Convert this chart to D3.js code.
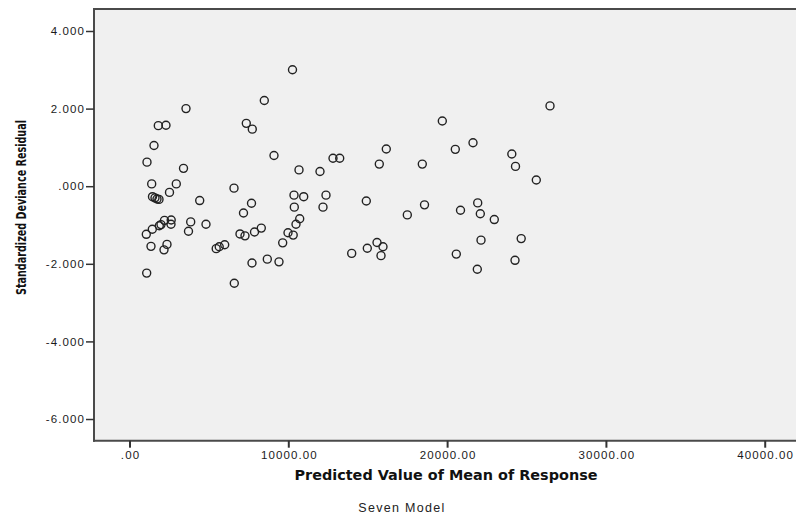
<!DOCTYPE html>
<html>
<head>
<meta charset="utf-8">
<script src="https://cdn.jsdelivr.net/npm/d3@7/dist/d3.min.js"></script>
<style>
  html, body { margin: 0; padding: 0; background: #ffffff; }
  svg { display: block; }
</style>
</head>
<body>
<svg id="chart" width="796" height="520"></svg>
<script>
// ---- Data ----
const predicted = [10264, 8489, 3558, 1814, 2298, 7355, 7733, 1543, 1102, 9099,
  3401, 12815, 13237, 10674, 11996, 1398, 2947, 2519, 1448, 1606,
  1732, 1858, 4421, 6581, 7683, 7179, 10359, 10970, 10378, 12374,
  12185, 2204, 2626, 2613, 1877, 1984, 1436, 1058, 3854, 3715,
  4817, 1354, 2361, 2173, 5460, 5649, 5995, 6958, 7273, 7872,
  8300, 9981, 10309, 9647, 10485, 10718, 7714, 8678, 9414, 1083,
  6599, 16171, 15730, 18438, 19698, 20516, 21631, 24074, 24307, 25617,
  26480, 14912, 17494, 18577, 13992, 14975, 15586, 15963, 15838, 20579,
  20844, 21927, 22091, 22972, 22135, 21902, 24666, 24276];
const residual = [3.00, 2.21, 2.00, 1.56, 1.57, 1.62, 1.47, 1.05, 0.62, 0.79,
  0.46, 0.72, 0.72, 0.42, 0.38, 0.06, 0.06, -0.16, -0.27, -0.30,
  -0.33, -0.34, -0.37, -0.05, -0.44, -0.69, -0.23, -0.27, -0.54, -0.23,
  -0.54, -0.88, -0.87, -0.98, -1.02, -0.99, -1.11, -1.24, -0.92, -1.16,
  -0.98, -1.55, -1.50, -1.64, -1.61, -1.56, -1.51, -1.23, -1.28, -1.18,
  -1.08, -1.20, -1.26, -1.46, -0.98, -0.84, -1.98, -1.88, -1.95, -2.24,
  -2.50, 0.96, 0.57, 0.57, 1.68, 0.95, 1.12, 0.83, 0.51, 0.16,
  2.07, -0.38, -0.74, -0.48, -1.73, -1.60, -1.45, -1.56, -1.79, -1.75,
  -0.62, -0.43, -0.71, -0.86, -1.39, -2.14, -1.35, -1.91];

const xTickValues = [0, 10000, 20000, 30000, 40000];
const xTickLabels = [".00", "10000.00", "20000.00", "30000.00", "40000.00"];
const yTickValues = [-6, -4, -2, 0, 2, 4];
const yTickLabels = ["-6.000", "-4.000", "-2.000", ".000", "2.000", "4.000"];

const xTitle = "Predicted Value of Mean of Response";
const yTitle = "Standardized Deviance Residual";
const caption = "Seven Model";

// ---- Layout ----
const plotLeft = 94, plotRight = 796, plotTop = 9, plotBottom = 440.7;
const xDomain = [-2235, 41970];
const yDomain = [-6.559, 4.567];

const svg = d3.select("#chart");
const x = d3.scaleLinear().domain(xDomain).range([plotLeft, plotRight]);
const y = d3.scaleLinear().domain(yDomain).range([plotBottom, plotTop]);

// plot background
svg.append("rect")
  .attr("x", plotLeft).attr("y", plotTop)
  .attr("width", plotRight - plotLeft + 10).attr("height", plotBottom - plotTop)
  .attr("fill", "#f0f0f0");

// top border
svg.append("line")
  .attr("x1", plotLeft).attr("x2", plotRight + 10)
  .attr("y1", plotTop).attr("y2", plotTop)
  .attr("stroke", "#4a4a4a").attr("stroke-width", 2);

const tickFont = "'Liberation Sans', Arial, sans-serif";

// x axis
const xAxis = d3.axisBottom(x)
  .tickValues(xTickValues)
  .tickFormat((d, i) => xTickLabels[i])
  .tickSize(7).tickSizeOuter(0).tickPadding(3);
const gx = svg.append("g").attr("transform", `translate(0,${plotBottom})`).call(xAxis);
gx.select(".domain").attr("stroke", "#4a4a4a").attr("stroke-width", 2)
  .attr("d", `M${plotLeft - 1},0H${plotRight + 10}`);
gx.selectAll(".tick line").attr("stroke", "#333").attr("stroke-width", 2);
gx.selectAll(".tick text")
  .attr("fill", "#1a1a1a").style("font-family", tickFont).style("font-size", "11.5px")
  .style("letter-spacing", "1.1px").attr("dx", "0.5px");

// y axis
const yAxis = d3.axisLeft(y)
  .tickValues(yTickValues)
  .tickFormat((d, i) => yTickLabels[i])
  .tickSize(8).tickSizeOuter(0).tickPadding(1);
const gy = svg.append("g").attr("transform", `translate(${plotLeft},0)`).call(yAxis);
gy.select(".domain").attr("stroke", "#4a4a4a").attr("stroke-width", 2)
  .attr("d", `M0,${plotTop - 1}V${plotBottom + 1}`);
gy.selectAll(".tick line").attr("stroke", "#333").attr("stroke-width", 1.5);
gy.selectAll(".tick text")
  .attr("fill", "#1a1a1a").style("font-family", tickFont).style("font-size", "11.5px")
  .style("letter-spacing", "1.1px");

// points
svg.append("g").selectAll("circle")
  .data(predicted.map((p, i) => [p, residual[i]]))
  .join("circle")
  .attr("cx", d => x(d[0]))
  .attr("cy", d => y(d[1]))
  .attr("r", 4)
  .attr("fill", "none")
  .attr("stroke", "#222")
  .attr("stroke-width", 1.4);

// x title
svg.append("text")
  .attr("x", 446).attr("y", 480)
  .attr("text-anchor", "middle")
  .style("font-family", "'DejaVu Sans', Verdana, sans-serif")
  .style("font-weight", "bold").style("font-size", "13.5px")
  .attr("textLength", 303).attr("lengthAdjust", "spacingAndGlyphs")
  .attr("fill", "#111")
  .text(xTitle);

// y title
svg.append("text")
  .attr("transform", "translate(26,207.5) rotate(-90)")
  .attr("text-anchor", "middle")
  .style("font-family", "'Liberation Sans Narrow', 'DejaVu Sans Condensed', sans-serif")
  .style("font-weight", "bold").style("font-size", "13.5px")
  .attr("textLength", 175).attr("lengthAdjust", "spacingAndGlyphs")
  .attr("fill", "#111")
  .text(yTitle);

// caption
svg.append("text")
  .attr("x", 402).attr("y", 512)
  .attr("text-anchor", "middle")
  .style("font-family", tickFont).style("font-size", "12.5px")
  .style("letter-spacing", "1.3px")
  .attr("fill", "#222")
  .text(caption);
</script>
</body>
</html>
